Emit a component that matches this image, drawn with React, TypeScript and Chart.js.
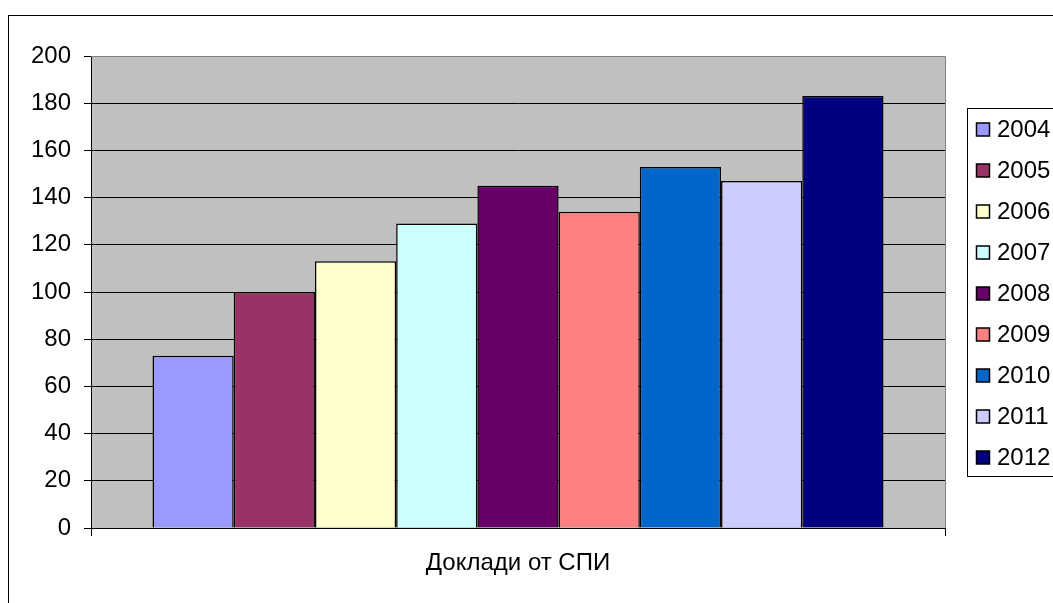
import React, { useEffect, useRef } from "react";
import { Chart, registerables } from "chart.js";

Chart.register(...registerables);

const categories = ["Доклади от СПИ"];
const years = ["2004", "2005", "2006", "2007", "2008", "2009", "2010", "2011", "2012"];
const values = [73, 100, 113, 129, 145, 134, 153, 147, 183];
const colors = ["#9999FF", "#993366", "#FFFFCC", "#CCFFFF", "#660066", "#FF8080", "#0066CC", "#CCCCFF", "#000080"];
const yMin = 0;
const yMax = 200;
const yStep = 20;

const FONT = "'Liberation Sans', Arial, sans-serif";

const framePlugin = {
  id: "frame",
  beforeDraw(chart: any) {
    const { ctx, chartArea } = chart;
    ctx.save();
    ctx.fillStyle = "#ffffff";
    ctx.fillRect(0, 0, chart.width, chart.height);
    ctx.strokeStyle = "#000000";
    ctx.lineWidth = 1;
    ctx.strokeRect(8.5, 15.5, 3000, 3000);
    ctx.fillStyle = "#C0C0C0";
    ctx.fillRect(chartArea.left, chartArea.top, chartArea.right - chartArea.left, chartArea.bottom - chartArea.top);
    ctx.restore();
  },
  afterDatasetsDraw(chart: any) {
    const { ctx, chartArea } = chart;
    ctx.save();
    ctx.strokeStyle = "#808080";
    ctx.lineWidth = 1;
    ctx.beginPath();
    ctx.moveTo(chartArea.left, Math.round(chartArea.top) + 0.5);
    ctx.lineTo(Math.round(chartArea.right) + 0.5, Math.round(chartArea.top) + 0.5);
    ctx.lineTo(Math.round(chartArea.right) + 0.5, chartArea.bottom);
    ctx.stroke();
    ctx.restore();
  },
  afterDraw(chart: any) {
    const { ctx } = chart;
    const boxLeft = 967.5;
    const boxTop = 108.5;
    const rowH = 41;
    const firstRow = 129;
    const ds = chart.data.datasets;
    const boxH = 368;
    ctx.save();
    ctx.fillStyle = "#ffffff";
    ctx.fillRect(boxLeft, boxTop, 300, boxH);
    ctx.strokeStyle = "#000000";
    ctx.lineWidth = 1;
    ctx.strokeRect(boxLeft, boxTop, 300, boxH);
    ctx.font = `24px ${FONT}`;
    ctx.textBaseline = "middle";
    ctx.textAlign = "left";
    ds.forEach((d: any, i: number) => {
      const yc = firstRow + rowH * i;
      ctx.fillStyle = d.backgroundColor;
      ctx.fillRect(976.5, yc - 6, 13, 13);
      ctx.strokeStyle = "#000000";
      ctx.lineWidth = 1.5;
      ctx.strokeRect(976.5, yc - 6, 13, 13);
      ctx.fillStyle = "#000000";
      ctx.fillText(d.label, 997, yc + 1);
    });
    ctx.restore();
  },
};

export default function App() {
  const ref = useRef<HTMLCanvasElement | null>(null);

  useEffect(() => {
    if (!ref.current) return;
    const chart = new Chart(ref.current, {
      type: "bar",
      data: {
        labels: categories,
        datasets: years.map((y, i) => ({
          label: y,
          data: [values[i]],
          backgroundColor: colors[i],
          borderColor: "#000000",
          borderWidth: 1.5,
          categoryPercentage: 0.856,
          barPercentage: 1,
        })),
      },
      options: {
        responsive: false,
        animation: false,
        devicePixelRatio: 1,
        layout: { padding: { left: 0, top: 56, right: 108, bottom: 0 } },
        plugins: {
          legend: { display: false },
          tooltip: { enabled: false },
          title: { display: false },
        },
        scales: {
          x: {
            offset: true,
            grid: {
              display: true,
              drawOnChartArea: false,
              drawTicks: true,
              tickLength: 8,
              offset: true,
              color: (c: any) => (c.index === 1 ? "#808080" : "#000000"),
            },
            border: { display: true, color: "#000000", width: 1 },
            ticks: {
              color: "#000000",
              font: { family: FONT, size: 24 },
              padding: 13,
              maxRotation: 0,
            },
            afterFit(scale: any) {
              scale.height = 75;
            },
          },
          y: {
            min: yMin,
            max: yMax,
            grid: {
              color: (c: any) => (c.tick && c.tick.value === yMax ? "#808080" : "#000000"),
              tickColor: "#000000",
              tickLength: 7,
              lineWidth: 1,
            },
            border: { display: true, color: "#000000", width: 1 },
            ticks: {
              stepSize: yStep,
              color: "#000000",
              font: { family: FONT, size: 24 },
              padding: 13,
            },
            afterFit(scale: any) {
              scale.width = 91;
            },
          },
        },
      },
      plugins: [framePlugin],
    });
    return () => chart.destroy();
  }, []);

  return (
    <div style={{ position: "absolute", left: 0, top: 0, width: 1053, height: 603, overflow: "hidden" }}>
      <canvas ref={ref} width={1053} height={603} style={{ display: "block" }} />
    </div>
  );
}
